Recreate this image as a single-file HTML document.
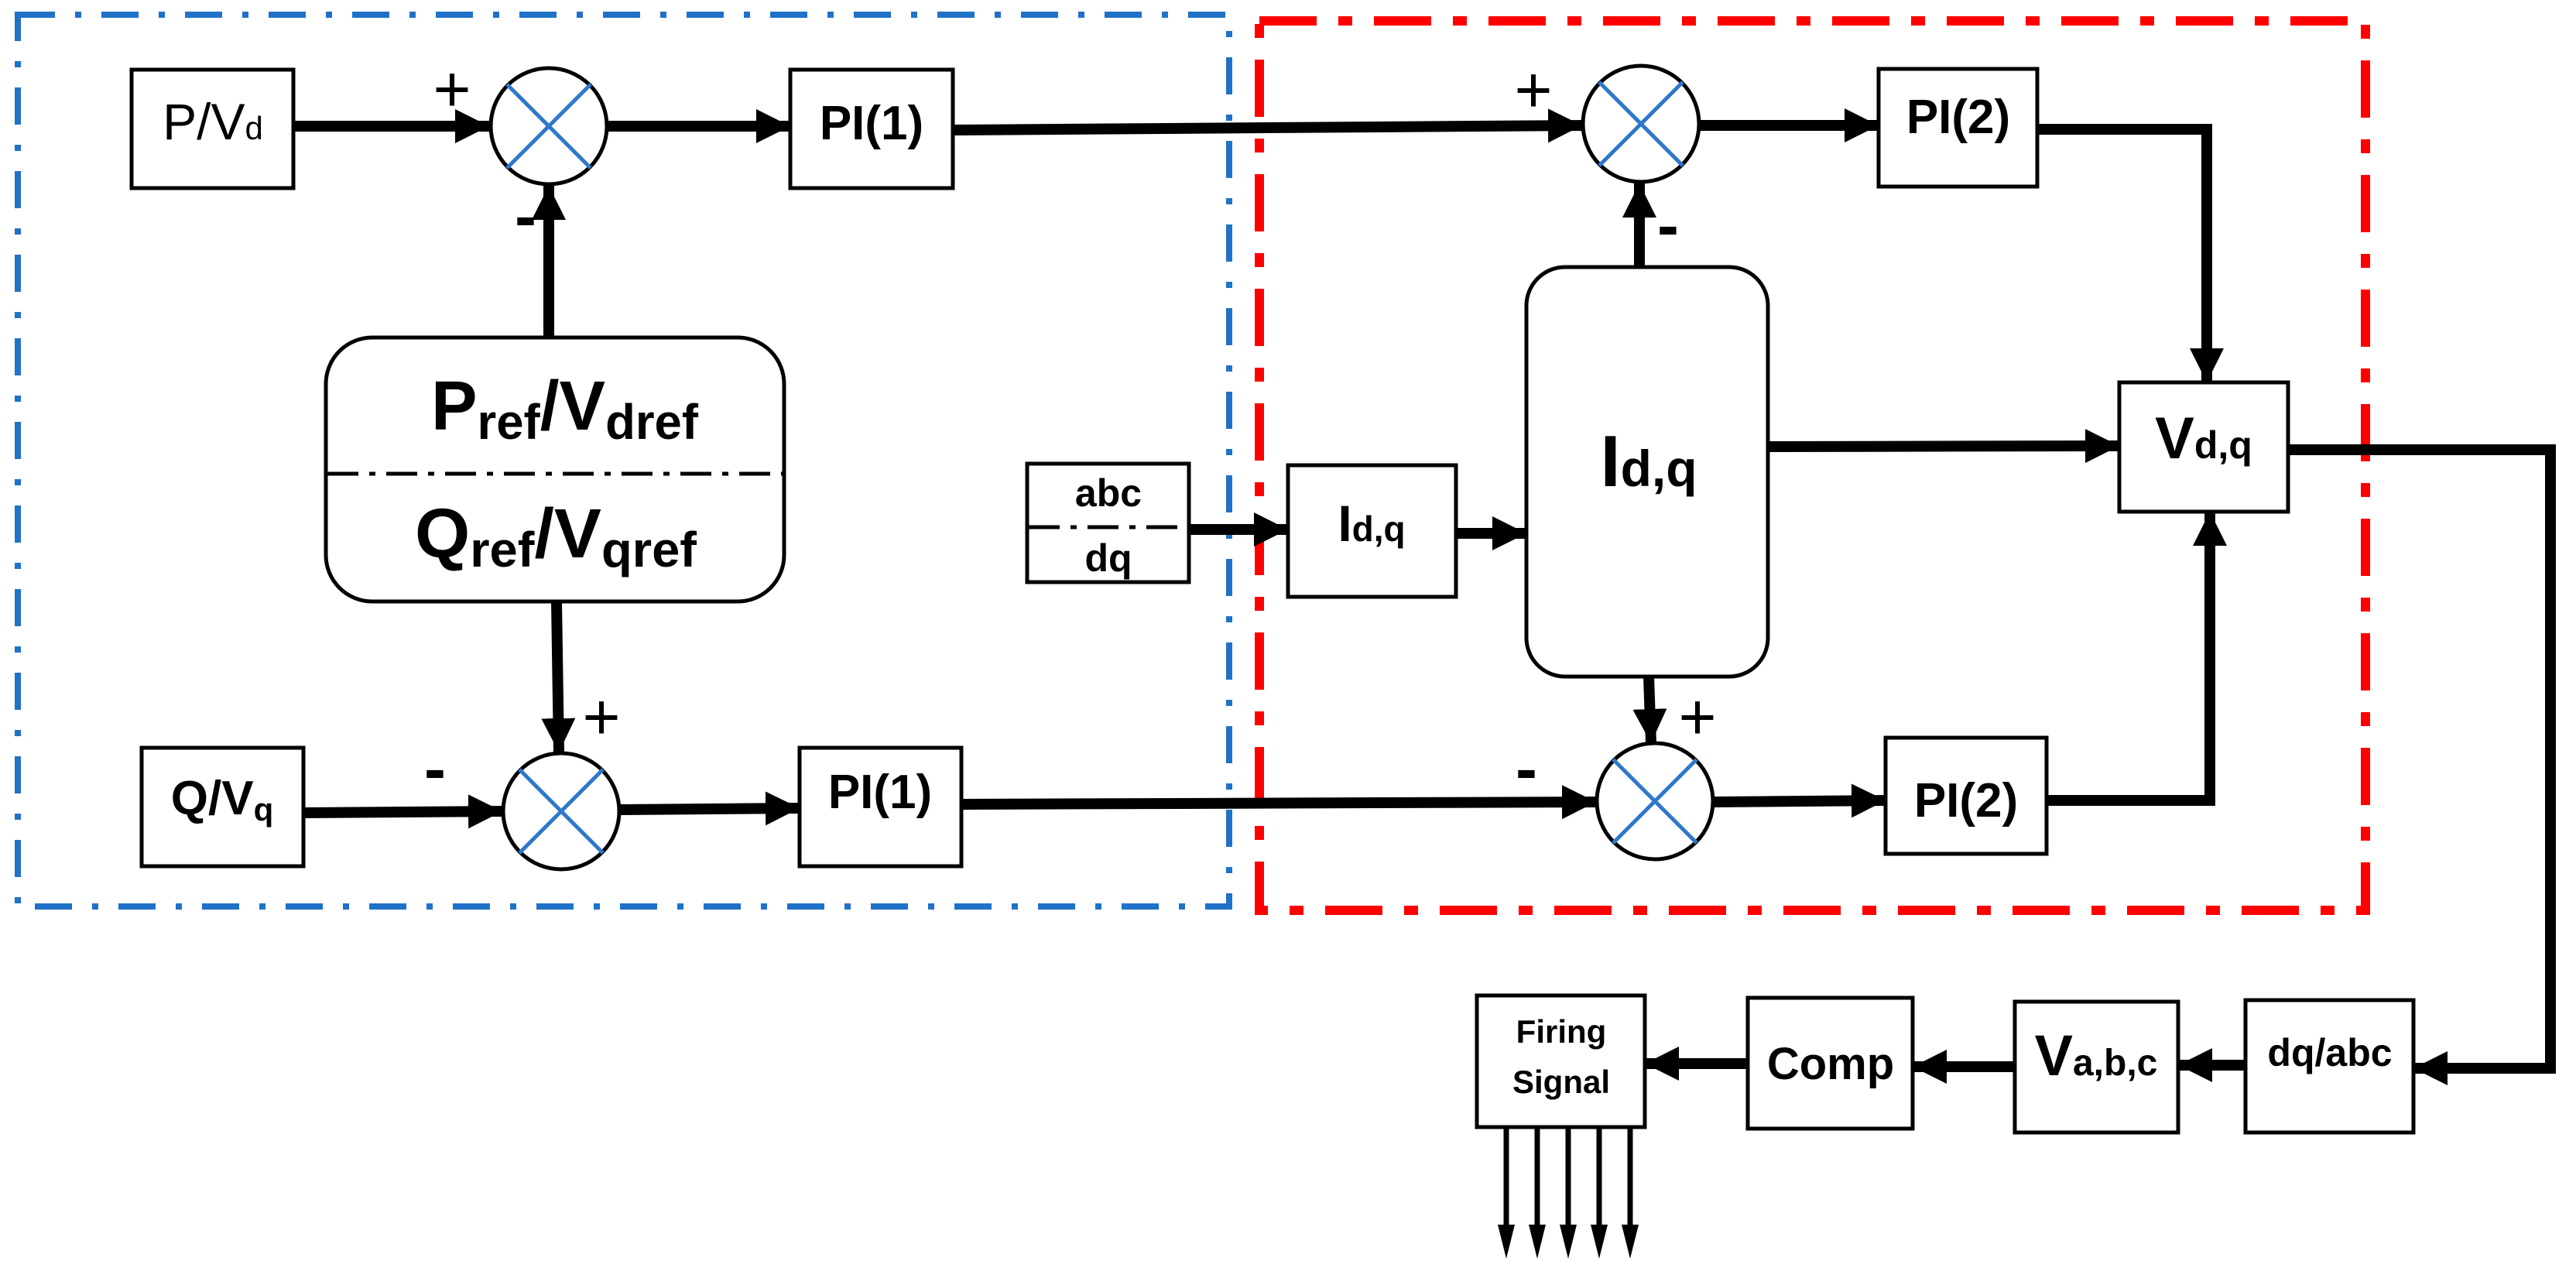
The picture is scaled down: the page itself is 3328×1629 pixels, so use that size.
<!DOCTYPE html>
<html><head><meta charset="utf-8"><style>
html,body{margin:0;padding:0;background:#fff;}
svg{display:block;}
text{font-family:"Liberation Sans",sans-serif;fill:#000;}
</style></head><body>
<svg width="3328" height="1629" viewBox="0 0 3328 1629" xmlns="http://www.w3.org/2000/svg">
<defs>
<marker id="ah" viewBox="0 0 10 10" refX="10" refY="5" markerWidth="44" markerHeight="44" markerUnits="userSpaceOnUse" orient="auto">
<path d="M0,0 L10,5 L0,10 z" fill="#000"/></marker>
</defs>

<!-- frames -->
<rect x="23" y="19" width="1565" height="1152" fill="none" stroke="#1f72c8" stroke-width="8" stroke-dasharray="48,26,8,26"/>
<rect x="1627" y="27" width="1429" height="1149" fill="none" stroke="#ff0000" stroke-width="12" stroke-dasharray="74,28,18,28"/>

<g stroke="#000" stroke-width="5" fill="#fff">
<rect x="170" y="90" width="209" height="153"/>
<rect x="1021" y="90" width="210" height="153"/>
<rect x="183" y="966" width="209" height="153"/>
<rect x="1033" y="966" width="209" height="153"/>
<rect x="421" y="436" width="592" height="341" rx="60"/>
<rect x="1327" y="599" width="209" height="153"/>
<rect x="1664" y="601" width="217" height="170"/>
<rect x="1972" y="345" width="312" height="529" rx="50"/>
<rect x="2427" y="89" width="205" height="152"/>
<rect x="2436" y="953" width="208" height="150"/>
<rect x="2738" y="494" width="218" height="167"/>
<rect x="1908" y="1286" width="217" height="170"/>
<rect x="2258" y="1289" width="213" height="169"/>
<rect x="2603" y="1294" width="211" height="169"/>
<rect x="2901" y="1292" width="217" height="171"/>
</g>

<!-- dividers -->
<line x1="423" y1="612" x2="1011" y2="612" stroke="#000" stroke-width="5" stroke-dasharray="40,14,8,14"/>
<line x1="1329" y1="681" x2="1560" y2="681" stroke="#000" stroke-width="5" stroke-dasharray="40,14,8,14"/>

<!-- sum circles -->
<g stroke="#000" stroke-width="5" fill="#fff">
<circle cx="709" cy="163" r="75"/>
<circle cx="725" cy="1048" r="75"/>
<circle cx="2120" cy="160" r="75"/>
<circle cx="2138" cy="1035" r="75"/>
</g>
<g stroke="#2e78cc" stroke-width="5">
<path d="M655,109 L763,217 M763,109 L655,217"/>
<path d="M671,994 L779,1102 M779,994 L671,1102"/>
<path d="M2066,106 L2174,214 M2174,106 L2066,214"/>
<path d="M2084,981 L2192,1089 M2192,981 L2084,1089"/>
</g>

<!-- connectors -->
<g stroke="#000" stroke-width="14" fill="none" marker-end="url(#ah)">
<line x1="379" y1="163" x2="632" y2="163"/>
<line x1="784" y1="163" x2="1021" y2="163"/>
<line x1="709" y1="436" x2="709" y2="240"/>
<line x1="1231" y1="168" x2="2044" y2="162"/>
<line x1="2195" y1="162" x2="2427" y2="162"/>
<line x1="2118" y1="345" x2="2118" y2="237"/>
<polyline points="2632,167 2851,167 2851,494"/>
<line x1="2284" y1="577" x2="2738" y2="576"/>
<line x1="719" y1="777" x2="722" y2="972"/>
<line x1="392" y1="1050" x2="649" y2="1048"/>
<line x1="800" y1="1046" x2="1033" y2="1044"/>
<line x1="1242" y1="1039" x2="2062" y2="1036"/>
<line x1="2213" y1="1036" x2="2436" y2="1034"/>
<line x1="2130" y1="874" x2="2133" y2="960"/>
<polyline points="2644,1034 2855,1034 2855,661"/>
<line x1="1536" y1="684" x2="1664" y2="684"/>
<line x1="1881" y1="689" x2="1972" y2="689"/>
<polyline points="2956,581 3295,581 3295,1380 3118,1380"/>
<line x1="2901" y1="1376" x2="2814" y2="1376"/>
<line x1="2603" y1="1378" x2="2471" y2="1378"/>
<line x1="2258" y1="1374" x2="2125" y2="1374"/>
</g>
<g stroke="#000" stroke-width="7">
<line x1="1946" y1="1456" x2="1946" y2="1590"/>
<line x1="1986" y1="1456" x2="1986" y2="1590"/>
<line x1="2026" y1="1456" x2="2026" y2="1590"/>
<line x1="2066" y1="1456" x2="2066" y2="1590"/>
<line x1="2106" y1="1456" x2="2106" y2="1590"/>
</g>
<g fill="#000">
<path d="M1935,1582 L1957,1582 L1946,1626 z"/>
<path d="M1975,1582 L1997,1582 L1986,1626 z"/>
<path d="M2015,1582 L2037,1582 L2026,1626 z"/>
<path d="M2055,1582 L2077,1582 L2066,1626 z"/>
<path d="M2095,1582 L2117,1582 L2106,1626 z"/>
</g>

<!-- signs -->
<g font-size="84" text-anchor="middle">
<text x="584" y="144">+</text>
<text x="679" y="308" font-weight="bold">-</text>
<text x="777" y="955">+</text>
<text x="562" y="1022" font-weight="bold">-</text>
<text x="1981" y="145">+</text>
<text x="2155" y="320" font-weight="bold">-</text>
<text x="2193" y="955">+</text>
<text x="1972" y="1022" font-weight="bold">-</text>
</g>

<!-- labels -->
<text x="275" y="180" font-size="66" text-anchor="middle">P/V<tspan font-size="42">d</tspan></text>
<text x="1126" y="180" font-size="62" font-weight="bold" text-anchor="middle">PI(1)</text>
<text x="287" y="1052" font-size="62" font-weight="bold" text-anchor="middle">Q/V<tspan font-size="42" dy="8">q</tspan></text>
<text x="1137" y="1044" font-size="62" font-weight="bold" text-anchor="middle">PI(1)</text>
<text x="557" y="555" font-size="90" font-weight="bold" textLength="345" lengthAdjust="spacingAndGlyphs">P<tspan font-size="64" dy="12">ref</tspan><tspan dy="-12">/V</tspan><tspan font-size="64" dy="12">dref</tspan></text>
<text x="536" y="720" font-size="90" font-weight="bold" textLength="364" lengthAdjust="spacingAndGlyphs">Q<tspan font-size="64" dy="12">ref</tspan><tspan dy="-12">/V</tspan><tspan font-size="64" dy="12">qref</tspan></text>
<text x="1432" y="654" font-size="50" font-weight="bold" text-anchor="middle">abc</text>
<text x="1432" y="738" font-size="50" font-weight="bold" text-anchor="middle">dq</text>
<text x="1772" y="699" font-size="66" font-weight="bold" text-anchor="middle">I<tspan font-size="46">d,q</tspan></text>
<text x="2130" y="628" font-size="94" font-weight="bold" text-anchor="middle">I<tspan font-size="66">d,q</tspan></text>
<text x="2530" y="172" font-size="62" font-weight="bold" text-anchor="middle">PI(2)</text>
<text x="2540" y="1055" font-size="62" font-weight="bold" text-anchor="middle">PI(2)</text>
<text x="2847" y="592" font-size="76" font-weight="bold" text-anchor="middle">V<tspan font-size="50">d,q</tspan></text>
<text x="2017" y="1347" font-size="42" font-weight="bold" text-anchor="middle">Firing</text>
<text x="2017" y="1412" font-size="42" font-weight="bold" text-anchor="middle">Signal</text>
<text x="2365" y="1394" font-size="58" font-weight="bold" text-anchor="middle">Comp</text>
<text x="2708" y="1389" font-size="74" font-weight="bold" text-anchor="middle">V<tspan font-size="48">a,b,c</tspan></text>
<text x="3010" y="1377" font-size="50" font-weight="bold" text-anchor="middle">dq/abc</text>
</svg>
</body></html>
